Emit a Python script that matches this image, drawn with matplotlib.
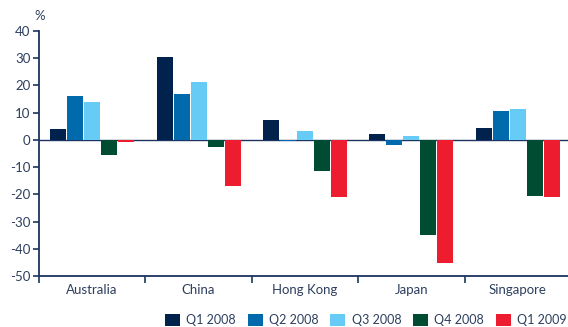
import matplotlib
matplotlib.use("Agg")
import matplotlib.pyplot as plt
import numpy as np
from matplotlib.patches import Patch

categories = ["Australia", "China", "Hong Kong", "Japan", "Singapore"]
series_names = ["Q1 2008", "Q2 2008", "Q3 2008", "Q4 2008", "Q1 2009"]
q1_2008 = [4.1, 30.5, 7.4, 2.3, 4.5]
q2_2008 = [16.2, 16.9, -0.5, -1.7, 10.7]
q3_2008 = [14.0, 21.3, 3.4, 1.6, 11.5]
q4_2008 = [-5.4, -2.7, -11.6, -35.0, -20.5]
q1_2009 = [-0.6, -17.1, -21.1, -45.3, -20.8]
series = [q1_2008, q2_2008, q3_2008, q4_2008, q1_2009]
colors = ["#00224d", "#006aad", "#66ccf5", "#004c33", "#ed1c2e"]
yticks = [40, 30, 20, 10, 0, -10, -20, -30, -40, -50]

text_color = "#2d3f5e"
axis_color = "#1d3461"
plt.rcParams['font.family'] = ['Lato', 'DejaVu Sans']

fig = plt.figure(figsize=(5.68, 3.27), dpi=100)
ax = fig.add_axes([39/568, 51/327, 532/568, 245/327])

x = np.arange(len(categories))
step = 0.16
width = 0.15
for i, (vals, c) in enumerate(zip(series, colors)):
    ax.bar(x + (i - 2) * step, vals, width=width, color=c, label=series_names[i], zorder=2)

ax.axhline(0, color=axis_color, lw=1.0, zorder=1)
ax.set_xlim(-0.5, len(categories) - 0.5)
ax.set_ylim(-50, 40)
ax.set_yticks(yticks)
ax.set_yticklabels([str(t) for t in yticks])
ax.set_xticks(x)
ax.set_xticklabels(categories)
ax.set_xticks(np.arange(len(categories) + 1) - 0.5, minor=True)
ax.tick_params(axis='x', which='major', length=0, pad=6, labelsize=9.5, labelcolor=text_color)
ax.tick_params(axis='x', which='minor', length=5, width=1.2, color=axis_color, direction='out')
ax.tick_params(axis='y', length=4, width=1.2, color=axis_color, direction='out', pad=2,
               labelsize=9.5, labelcolor=text_color)
for s in ['top', 'right']:
    ax.spines[s].set_visible(False)
for s in ['left', 'bottom']:
    ax.spines[s].set_color(axis_color)
    ax.spines[s].set_linewidth(1.3)

fig.text(34/568, 1 - 16/327, "%", fontsize=9.5, color=text_color, va='center', ha='left')

handles = [Patch(facecolor=c, edgecolor='none') for c in colors]
leg = fig.legend(handles, series_names, loc='lower right', bbox_to_anchor=(0.998, 0.003), ncol=5,
                 frameon=False, fontsize=9, handlelength=1.2, handleheight=1.1,
                 handletextpad=0.5, columnspacing=0.95, borderpad=0, borderaxespad=0,
                 labelcolor=text_color)

fig.savefig("out.png", dpi=100)
